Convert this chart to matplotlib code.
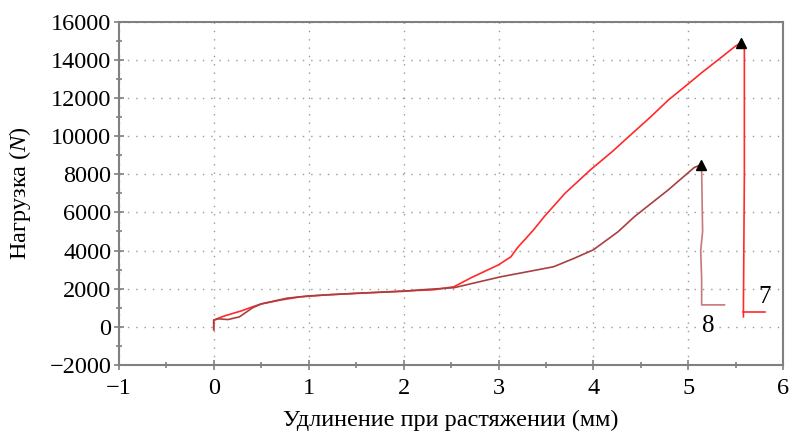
import matplotlib.pyplot as plt
from matplotlib.ticker import MultipleLocator

plt.rcParams['font.family'] = ['Liberation Serif', 'DejaVu Serif']
plt.rcParams['mathtext.fontset'] = 'custom'
plt.rcParams['mathtext.it'] = 'Liberation Serif:italic'
plt.rcParams['mathtext.rm'] = 'Liberation Serif'

# curve 7 (elongation mm, load N)
x7 = [0.0, 0.0, 0.05, 0.1, 0.2, 0.3, 0.41, 0.5, 0.7, 0.91, 1.2, 1.5, 1.8, 2.0,
      2.31, 2.53, 2.71, 3.0, 3.13, 3.2, 3.37, 3.48, 3.7, 3.97, 4.2, 4.37, 4.6,
      4.79, 5.0, 5.14, 5.3, 5.49, 5.55, 5.59, 5.59, 5.58, 5.58]
y7 = [-150, 350, 450, 550, 700, 850, 1050, 1200, 1400, 1570, 1680, 1750, 1830, 1880,
      1940, 2100, 2570, 3250, 3670, 4150, 5090, 5770, 7000, 8240, 9200, 9970, 11000,
      11900, 12750, 13330, 13950, 14700, 14900, 14600, 8000, 1000, 525]
tail7_x = [5.58, 5.81]
tail7_y = [790, 790]
peak7 = (5.55, 14900)

# curve 8
x8 = [0.0, 0.0, 0.05, 0.15, 0.27, 0.41, 0.5, 0.77, 1.0, 1.5, 2.0, 2.18, 2.53,
      3.02, 3.58, 3.8, 4.0, 4.26, 4.43, 4.79, 5.06, 5.13]
y8 = [-150, 350, 420, 380, 520, 1000, 1200, 1500, 1620, 1760, 1860, 1940, 2050,
      2620, 3150, 3600, 4040, 4990, 5770, 7190, 8350, 8500]
drop8_x = [5.13, 5.14, 5.15, 5.13, 5.14, 5.14, 5.38]
drop8_y = [8500, 8200, 5000, 4000, 2500, 1150, 1150]
peak8 = (5.13, 8500)

fig = plt.figure(figsize=(7.92, 4.36), dpi=100)
ax = fig.add_axes([0.150, 0.163, 0.839, 0.787])

ax.plot(x7, y7, color='#ff2a2a', lw=1.2)
ax.plot(tail7_x, tail7_y, color='#ff2a2a', lw=1.2)
ax.plot(x8, y8, color='#a84040', lw=1.2)
ax.plot(drop8_x, drop8_y, color='#c87878', lw=1.2)
ax.plot(*peak7, marker='^', color='black', ms=7, ls='none')
ax.plot(*peak8, marker='^', color='black', ms=7, ls='none')

ax.text(5.80, 1550, '7', fontsize=18, ha='center', va='center')
ax.text(5.21, 50, '8', fontsize=18, ha='center', va='center')

ax.set_xlim(-1, 6)
ax.set_ylim(-2000, 16000)
ax.xaxis.set_major_locator(MultipleLocator(1))
ax.xaxis.set_minor_locator(MultipleLocator(0.5))
ax.yaxis.set_major_locator(MultipleLocator(2000))
ax.yaxis.set_minor_locator(MultipleLocator(1000))
ax.tick_params(which='both', direction='inout', color='#808080', labelsize=17.5)
ax.tick_params(which='major', length=7, width=1.2, pad=2)
ax.tick_params(axis='x', which='major', pad=6)
ax.tick_params(which='minor', length=5, width=1.2)
ax.grid(True, which='major', ls=(0, (1, 5)), color='#999999', lw=1.0)
for s in ax.spines.values():
    s.set_color('#808080')
    s.set_linewidth(1.5)

ax.set_xlabel('Удлинение при растяжении (мм)', fontsize=17.5, labelpad=8)
ax.set_ylabel('Нагрузка ($\\mathit{N}$)', fontsize=17.5, labelpad=12)

fig.savefig('out.png', dpi=100)
